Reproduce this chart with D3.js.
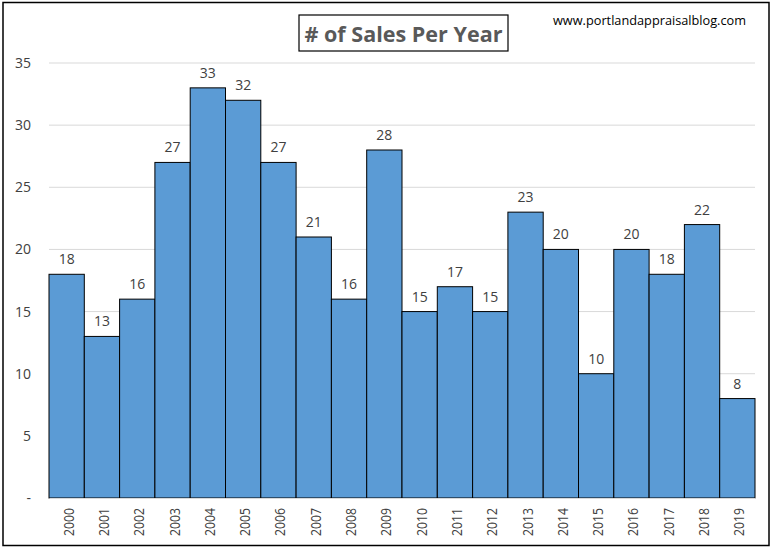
<!DOCTYPE html>
<html><head><meta charset="utf-8">
<script src="https://cdn.jsdelivr.net/npm/d3@7"></script>
<style>body{margin:0;background:#fff}svg{display:block}text{font-family:"Open Sans","Liberation Sans",sans-serif}</style>
</head><body>
<svg id="c" width="773" height="549"></svg>
<script>
const years = ["2000","2001","2002","2003","2004","2005","2006","2007","2008","2009","2010","2011","2012","2013","2014","2015","2016","2017","2018","2019"];
const sales = [18,13,16,27,33,32,27,21,16,28,15,17,15,23,20,10,20,18,22,8];
const yTicks = [0,5,10,15,20,25,30,35];
const yTickLabels = ["-","5","10","15","20","25","30","35"];

const svg = d3.select("#c");
svg.append("rect").attr("x",3).attr("y",2.5).attr("width",766).attr("height",543)
  .attr("fill","#fff").attr("stroke","#000").attr("stroke-width",1.5);

const x = d3.scaleBand().domain(years).range([49,755]).padding(0);
const y = d3.scaleLinear().domain([0,35]).range([498,63]);

// gridlines
svg.append("g").selectAll("line").data(yTicks.filter(d=>d>0)).join("line")
  .attr("x1",49).attr("x2",755).attr("y1",d=>y(d)).attr("y2",d=>y(d))
  .attr("stroke","#d9d9d9").attr("stroke-width",1);

// y axis labels
const yAxis = d3.axisLeft(y).tickValues(yTicks).tickSize(0).tickPadding(0)
  .tickFormat((d,i)=>yTickLabels[i]);
const ya = svg.append("g").attr("transform","translate(31,0)").call(yAxis);
ya.select(".domain").remove();
ya.selectAll("text").attr("font-size",14).attr("fill","#404040");

// bars
svg.append("g").selectAll("rect").data(sales).join("rect")
  .attr("x",(d,i)=>x(years[i])).attr("width",x.bandwidth())
  .attr("y",d=>y(d)).attr("height",d=>y(0)-y(d))
  .attr("fill","#5b9bd5").attr("stroke","#000").attr("stroke-width",1);

// value labels
svg.append("g").selectAll("text").data(sales).join("text")
  .attr("x",(d,i)=>x(years[i])+x.bandwidth()/2).attr("y",d=>y(d)-10)
  .attr("text-anchor","middle").attr("font-size",14).attr("fill","#404040")
  .text(d=>d);

// x axis
const xAxis = d3.axisBottom(x).tickSize(0).tickPadding(0);
const xa = svg.append("g").attr("transform","translate(0,498)").call(xAxis);
xa.select(".domain").attr("stroke","#d9d9d9");
xa.selectAll("text").attr("font-size",14).attr("fill","#404040")
  .attr("text-anchor","end").attr("dy",null)
  .attr("textLength",28).attr("lengthAdjust","spacingAndGlyphs")
  .attr("transform","translate(7,10) rotate(-90)").attr("x",0).attr("y",0);

// title
svg.append("rect").attr("x",299).attr("y",15).attr("width",209).attr("height",36)
  .attr("fill","none").attr("stroke","#000").attr("stroke-width",1.2);
svg.append("text").attr("x",403.5).attr("y",42).attr("text-anchor","middle")
  .attr("font-size",22).attr("font-weight","bold").attr("fill","#595959")
  .attr("textLength",198).attr("lengthAdjust","spacingAndGlyphs")
  .text("# of Sales Per Year");
svg.append("text").attr("x",553).attr("y",25).attr("font-size",13).attr("fill","#000")
  .attr("textLength",193).attr("lengthAdjust","spacingAndGlyphs")
  .text("www.portlandappraisalblog.com");
</script>
</body></html>
